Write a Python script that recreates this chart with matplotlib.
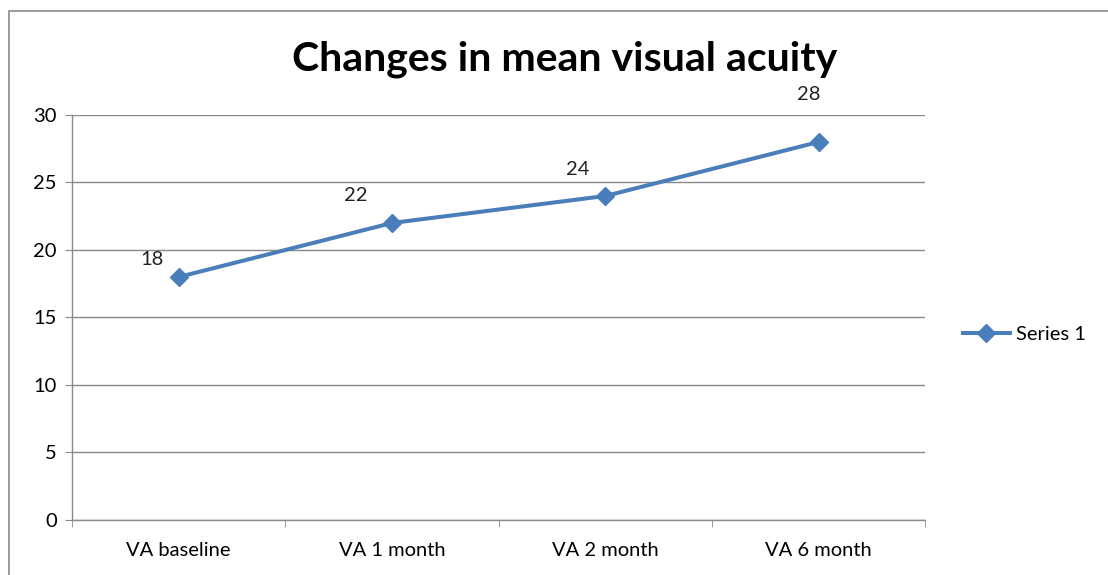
import matplotlib.pyplot as plt
import numpy as np

plt.rcParams['font.family'] = ['Lato', 'DejaVu Sans']

categories = ["VA baseline", "VA 1 month", "VA 2 month", "VA 6 month"]
values = [18, 22, 24, 28]
series_name = "Series 1"
title = "Changes in mean visual acuity"

# label offsets in pixels (x, y) as placed in the original
label_offsets = [(-27, 17), (-36, 27), (-27, 26), (-10, 47)]

blue = "#4A7EBB"
grey = "#898989"
fs = 14.5

fig = plt.figure(figsize=(11.08, 5.75), dpi=100)
ax = fig.add_axes([0.065, 0.0957, 0.77, 0.7043])

x = np.arange(len(categories))
ax.plot(x, values, color=blue, lw=2.9, marker="D", markersize=9,
        label=series_name, zorder=3)

for xi, v, off in zip(x, values, label_offsets):
    ax.annotate(str(v), (xi, v), xytext=(off[0] * 0.72, off[1] * 0.72),
                textcoords="offset points", ha="center", va="center",
                fontsize=fs, color="#222222")

ax.set_xlim(-0.5, len(categories) - 0.5)
ax.set_ylim(0, 30)
ax.set_yticks(np.arange(0, 31, 5))
ax.set_xticks(x)
ax.set_xticklabels(categories)
ax.set_xticks(np.arange(-0.5, len(categories), 1), minor=True)
ax.tick_params(axis="x", which="major", length=0, pad=16, labelsize=fs)
ax.tick_params(axis="x", which="minor", length=5, color=grey, direction="out")
ax.tick_params(axis="y", length=5, color=grey, labelsize=fs, pad=6)
ax.grid(axis="y", color=grey, lw=1)
ax.set_axisbelow(True)
for s in ["top", "right"]:
    ax.spines[s].set_visible(False)
for s in ["left", "bottom"]:
    ax.spines[s].set_color(grey)
    ax.spines[s].set_linewidth(1)

fig.text(0.51, 0.897, title, ha="center", va="center", fontsize=29.5,
         fontweight="bold", color="black")

fig.legend(loc="center left", bbox_to_anchor=(0.853, 0.418), frameon=False,
           fontsize=fs, handlelength=2.3, handletextpad=0.3)

# outer chart border
fig.patches.append(plt.Rectangle((9 / 1108, -0.05), 1.2, (575 - 11) / 575 + 0.05,
                                 transform=fig.transFigure, fill=False,
                                 edgecolor=grey, lw=1.2))

fig.savefig("out.png", dpi=100)
